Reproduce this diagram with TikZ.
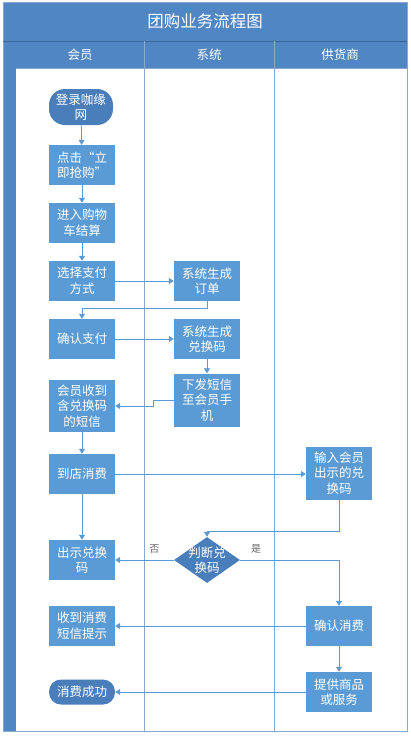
\documentclass[tikz,border=0pt]{standalone}
\usepackage{fontspec}
\setmainfont{Noto Sans CJK SC}
\usetikzlibrary{positioning,shapes.geometric,arrows.meta}

\definecolor{titleblue}{HTML}{4F86C3}
\definecolor{boxblue}{HTML}{5B9BD5}
\definecolor{darkblue}{HTML}{4A7EBB}
\definecolor{laneline}{HTML}{8AA8CA}

\newcommand{\boxfont}{\fontsize{12.5}{15.5}\selectfont}

\tikzset{
  procbox/.style={rectangle,
      fill=boxblue,
      text=white,
      minimum width=66pt,
      minimum height=40pt,
      inner sep=0pt,
      align=center,
      font=\boxfont},
  termnode/.style={rectangle,
      rounded corners=12pt,
      fill=darkblue,
      text=white,
      minimum width=64pt,
      minimum height=36pt,
      inner sep=0pt,
      align=center,
      font=\boxfont},
  decision/.style={diamond,
      fill=darkblue,
      text=white,
      minimum width=66pt,
      minimum height=46pt,
      inner sep=-6pt,
      align=center,
      font=\boxfont},
  flow/.style={draw=boxblue,
      line width=0.8pt,
      -{Triangle[width=6pt,length=5pt]}},
  lanetext/.style={text=white, font=\boxfont},
  choicetext/.style={text=gray!80!black, font=\fontsize{10}{12}\selectfont}
}

\begin{document}
\begin{tikzpicture}[x=1pt,y=-1pt]
\useasboundingbox (0,0) rectangle (411,737);

% swimlane frame
\fill[titleblue] (3,2) rectangle (407,68);
\fill[titleblue] (3,68) rectangle (16,731);
\draw[laneline, line width=1pt] (3,2) rectangle (407,731);
\draw[darkblue!80!black, line width=0.8pt] (3,41) -- (407,41);
\draw[laneline, line width=1pt] (16,68) -- (407,68);
\draw[laneline, line width=1pt] (144,41) -- (144,731);
\draw[laneline, line width=1pt] (274,41) -- (274,731);
\node[text=white, font=\fontsize{16.5}{18}\selectfont] (title) at (205,21) {团购业务流程图};
\node[lanetext] (lanemember) at (80,55) {会员};
\node[lanetext] (lanesystem) at (209,55) {系统};
\node[lanetext] (lanesupplier) at (340,55) {供货商};

% member lane
\node[termnode, rounded corners=16pt] (login) at (81,107) {登录咖缘\\网};
\node[procbox] (click) at (82,165) {点击“立\\即抢购”};
\node[procbox] (cart) at (82,223) {进入购物\\车结算};
\node[procbox] (paysel) at (82,281) {选择支付\\方式};
\node[procbox] (paycfm) at (82,339) {确认支付};
\node[procbox, minimum height=52pt] (recv) at (82,406) {会员收到\\含兑换码\\的短信};
\node[procbox] (store) at (82,474) {到店消费};
\node[procbox] (show) at (82,560) {出示兑换\\码};
\node[procbox] (msgtip) at (82,626) {收到消费\\短信提示};
\node[termnode, minimum width=66pt, minimum height=25pt] (done) at (82,692) {消费成功};

% system lane
\node[procbox] (order) at (207,281) {系统生成\\订单};
\node[procbox] (code) at (207,339) {系统生成\\兑换码};
\node[procbox, minimum height=53pt] (sms) at (207,400) {下发短信\\至会员手\\机};
\node[decision] (judge) at (207,560) {判断兑\\换码};

% supplier lane
\node[procbox, minimum height=53pt] (input) at (339,473) {输入会员\\出示的兑\\换码};
\node[procbox] (confirm) at (339,626) {确认消费};
\node[procbox] (provide) at (339,692) {提供商品\\或服务};

% connectors
\draw[flow] (login) -- (click);
\draw[flow] (click) -- (cart);
\draw[flow] (cart) -- (paysel);
\draw[flow] (paysel) -- (order);
\draw[flow] (order.south) -- ++(0,7) -| (paycfm.north);
\draw[flow] (paycfm) -- (code);
\draw[flow] (code) -- (sms);
\draw[flow] (sms.west) -- ++(-20,0) |- (recv.east);
\draw[flow] (recv) -- (store);
\draw[flow] (store.east) -- (input.west |- store.east);
\draw[flow] (store) -- (show);
\draw[flow] (input.south) -- ++(0,32) -| (judge.north);
\draw[flow] (judge.west) -- node[choicetext, above=3pt, pos=0.33] {否} (show.east);
\draw[flow] (judge.east) -| node[choicetext, above=3pt, pos=0.08] {是} (confirm.north);
\draw[flow] (confirm) -- (msgtip);
\draw[flow] (confirm) -- (provide);
\draw[flow] (provide) -- (done);
\end{tikzpicture}
\end{document}
